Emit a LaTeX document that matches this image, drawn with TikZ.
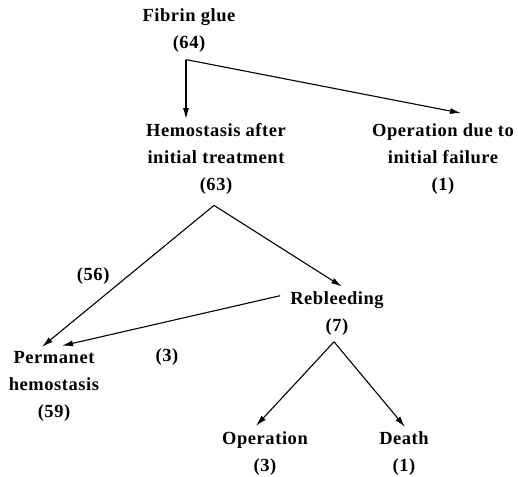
\documentclass[tikz,border=0pt]{standalone}
\usepackage{fontspec}
\setmainfont{Liberation Serif}[LetterSpace=3]
\usetikzlibrary{arrows.meta,calc,positioning}

\begin{document}
\begin{tikzpicture}[x=1pt,y=-1pt,>={Latex[length=11pt,width=6pt]},
  every node/.style={inner sep=0pt,align=center,font=\fontsize{18.5}{27}\selectfont\bfseries},
  pfeil/.style={->,line width=1.1pt}]
  \useasboundingbox (0,0) rectangle (518,476);
  % Knoten
  \node (fibrin) at (189,30.5) {Fibrin glue\\(64)};
  \node (hemo) at (216,158.7) {Hemostasis after\\initial treatment\\(63)};
  \node (opfail) at (443,158.7) {Operation due to\\initial failure\\(1)};
  \node (reb) at (337,313.7) {Rebleeding\\(7)};
  \node (perm) at (54,386) {Permanet\\hemostasis\\(59)};
  \node (oper) at (265,454) {Operation\\(3)};
  \node (death) at (404,454) {Death\\(1)};
  % Verzweigungen
  \coordinate (split) at ([shift={(-3,7)}]fibrin.south);
  \coordinate (hsplit) at ([shift={(-2,11)}]hemo.south);
  \coordinate (rsplit) at ([shift={(-3,6)}]reb.south);
  % Pfeile
  \draw[pfeil,shorten >=4pt] (split) -- (split |- hemo.north);
  \draw[pfeil] (split) -- ([shift={(18,-10)}]opfail.north);
  \draw[pfeil] (hsplit) -- node[midway,left=18pt]{(56)} ([shift={(-12,-4)}]perm.north);
  \draw[pfeil] (hsplit) -- ([shift={(5,-5)}]reb.north);
  \draw[pfeil] ([shift={(-10,-18)}]reb.west) -- node[midway,below=27pt,xshift=-4pt]{(3)} ([shift={(8,-5)}]perm.north);
  \draw[pfeil] (rsplit) -- ([shift={(-9,-6)}]oper.north);
  \draw[pfeil] (rsplit) -- ([shift={(1,-5)}]death.north);
\end{tikzpicture}
\end{document}
